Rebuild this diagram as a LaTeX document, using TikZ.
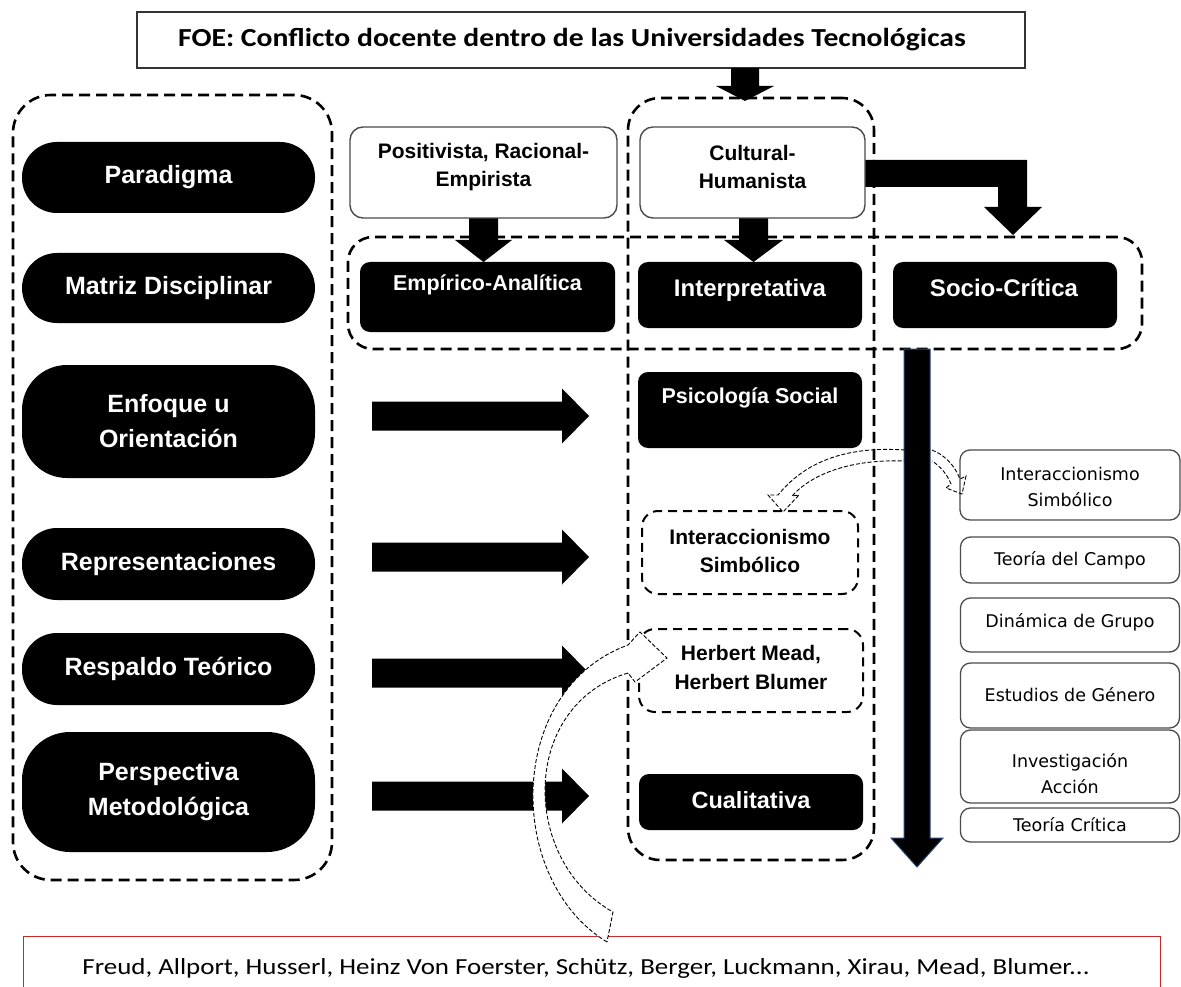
\documentclass[tikz,border=0pt]{standalone}
\usepackage{fontspec}
\setmainfont{Liberation Sans}
\newfontfamily\calfont{Carlito}
\newfontfamily\tahfont{DejaVu Sans}
\usetikzlibrary{calc}
\definecolor{bord}{RGB}{75,75,75}
\definecolor{redb}{RGB}{200,40,40}
\definecolor{blueedge}{RGB}{40,70,115}
\begin{document}
\begin{tikzpicture}[x=1pt,y=-1pt,
  pill/.style={fill=black,text=white,font=\bfseries\fontsize{25}{35}\selectfont,align=center,inner sep=0pt,minimum width=293pt,rounded corners=35pt},
  cont/.style={draw=black,line width=2.6pt,dash pattern=on 11pt off 6pt,rounded corners=38pt,inner sep=0pt},
  wbox/.style={draw=bord,line width=1.4pt,fill=white,rounded corners=13pt,inner sep=0pt},
  bbox/.style={fill=black,rounded corners=10pt,inner sep=0pt},
  dbox/.style={draw=black,line width=2pt,dash pattern=on 9pt off 6pt,rounded corners=16pt,inner sep=0pt},
  rbox/.style={draw=bord,line width=1.3pt,fill=white,rounded corners=10pt,inner sep=0pt,minimum width=219pt},
  btxt/.style={font=\bfseries\fontsize{21}{28.5}\selectfont,align=center,inner sep=0pt},
  wtxt/.style={text=white,font=\bfseries\fontsize{21.5}{28}\selectfont,align=center,inner sep=0pt},
  rtxt/.style={font=\tahfont\fontsize{17.5}{26}\selectfont,align=center,inner sep=0pt},
  hollow/.style={draw=black,line width=0.9pt,dash pattern=on 4pt off 2pt,fill=white},
  hollowthin/.style={draw=black,line width=0.9pt,dash pattern=on 4pt off 2pt},
  blk/.style={fill=black}
]
\useasboundingbox (0,0) rectangle (1181,987);
\clip (0,0) rectangle (1181,987);

% containers
\node[cont,minimum width=319pt,minimum height=785pt] (leftc) at (172.5,487.5) {};
\node[cont,minimum width=246pt,minimum height=762pt,rounded corners=32pt] (midc) at (751,479) {};
\node[cont,minimum width=794pt,minimum height=112pt,rounded corners=25pt] (matc) at (745,293) {};

% title
\node[draw=black!80,line width=1.4pt,minimum width=888pt,minimum height=56pt,inner sep=0pt] (title) at (581,40) {};
\node[font=\calfont\bfseries\fontsize{26}{30}\selectfont,inner sep=0pt] (titletxt) at (572,40) {\scalebox{1.14}[1]{FOE: Conflicto docente dentro de las Universidades Tecnológicas}};

% left pills
\node[pill,minimum height=71pt] (par) at (168.5,177.5) {Paradigma};
\node[pill,minimum height=70pt] (mat) at (168.5,288) {Matriz Disciplinar};
\node[pill,minimum height=113pt,rounded corners=45pt] (enf) at (168.5,421.5) {Enfoque u\\Orientación};
\node[pill,minimum height=72pt] (rep) at (168.5,564) {Representaciones};
\node[pill,minimum height=72pt] (res) at (168.5,669) {Respaldo Teórico};
\node[pill,minimum height=120pt,rounded corners=48pt] (per) at (168.5,792) {Perspectiva\\Metodológica};

% block arrows
\fill[blk] (731,68) -- (759,68) -- (759,86) -- (774,86) -- (745,101) -- (716,86) -- (731,86) -- cycle;
\fill[blk] (469,218) -- (498,218) -- (498,240) -- (512,240) -- (483.5,262) -- (455,240) -- (469,240) -- cycle;
\fill[blk] (739,218) -- (768,218) -- (768,240) -- (783,240) -- (753.5,262) -- (724,240) -- (739,240) -- cycle;
\fill[blk] (865,160) -- (1027,160) -- (1027,207) -- (1042,207) -- (1013,235) -- (984,207) -- (998,207) -- (998,187) -- (865,187) -- cycle;
\filldraw[fill=black,draw=blueedge,line width=1pt] (904,349) -- (930,349) -- (930,838) -- (943,838) -- (917,867) -- (891,838) -- (904,838) -- cycle;
\foreach \c in {416,557,673,796}{
  \fill[blk] (372,{\c-14.5}) -- (562,{\c-14.5}) -- (562,{\c-27.5}) -- (589,\c) -- (562,{\c+27.5}) -- (562,{\c+14.5}) -- (372,{\c+14.5}) -- cycle;
}

% top white boxes
\node[wbox,minimum width=267pt,minimum height=91pt] (pos) at (483.5,172.5) {};
\node[btxt] at (483.5,167) {Positivista, Racional-\\Empirista};
\node[wbox,minimum width=225pt,minimum height=91pt] (cul) at (752.5,172.5) {};
\node[btxt] at (752.5,167) {Cultural-\\Humanista};

% matrix row
\node[bbox,minimum width=255pt,minimum height=70pt] (emp) at (487.5,297) {};
\node[wtxt] at (487.5,285) {Empírico-Analítica};
\node[bbox,minimum width=224pt,minimum height=66pt] (int) at (750,295) {};
\node[wtxt,font=\bfseries\fontsize{24}{28}\selectfont] at (750,290) {Interpretativa};
\node[bbox,minimum width=224pt,minimum height=66pt] (soc) at (1005,295) {};
\node[wtxt,font=\bfseries\fontsize{24}{28}\selectfont] at (1004,288) {Socio-Crítica};

% middle column
\node[bbox,minimum width=224pt,minimum height=76pt] (psi) at (750,410) {};
\node[wtxt] at (750,398) {Psicología Social};
\node[dbox,minimum width=216pt,minimum height=83pt] (isb) at (750,552.5) {};
\node[btxt] at (750,551) {Interaccionismo\\Simbólico};
\node[dbox,minimum width=224pt,minimum height=83pt] (her) at (751,670.5) {};
\node[btxt] at (751,667.5) {Herbert Mead,\\Herbert Blumer};
\node[bbox,minimum width=224pt,minimum height=56pt] (cua) at (751,802) {};
\node[wtxt,font=\bfseries\fontsize{23.5}{28}\selectfont] at (751,800) {Cualitativa};

% right column
\node[rbox,minimum width=220pt,minimum height=70pt] (r1) at (1070,485) {};
\node[rtxt] at (1070,486.5) {Interaccionismo\\Simbólico};
\node[rbox,minimum height=46pt] (r2) at (1070,560) {};
\node[rtxt] at (1070,560) {Teoría del Campo};
\node[rbox,minimum height=54pt] (r3) at (1070,625) {};
\node[rtxt] at (1070,622) {Dinámica de Grupo};
\node[rbox,minimum height=65pt] (r4) at (1070,695.5) {};
\node[rtxt] at (1070,695) {Estudios de Género};
\node[rbox,minimum height=73pt] (r5) at (1070,766.5) {};
\node[rtxt] at (1070,773.5) {Investigación\\Acción};
\node[rbox,minimum height=34pt] (r6) at (1070,825) {};
\node[rtxt] at (1070,825) {Teoría Crítica};

% bottom red box
\node[draw=redb,line width=1.3pt,fill=white,minimum width=1137pt,minimum height=80pt,inner sep=0pt,anchor=north west] (authors) at (23,936) {};
\node[font=\calfont\fontsize{23}{27}\selectfont,inner sep=0pt] at (586,968) {\scalebox{1.17}[1]{Freud, Allport, Husserl, Heinz Von Foerster, Schütz, Berger, Luckmann, Xirau, Mead, Blumer...}};

% hollow curved arrows
\filldraw[hollow] (607,942) .. controls (505,880) and (505,690) .. (628,645) -- (640,632) -- (667,658) -- (635,682) -- (628,673) .. controls (520,705) and (520,860) .. (613,912) -- cycle;
\draw[hollowthin] (905,450) .. controls (845,446) and (805,462) .. (778,495) -- (768,495) -- (783,512) -- (799,495) -- (792,496) .. controls (812,474) and (850,459) .. (905,461);
\draw[hollowthin] (932,450) .. controls (945,455) and (955,466) .. (960,479) -- (966,476) -- (962,494) -- (946,488) -- (951,484) .. controls (947,474) and (940,466) .. (932,461);
\end{tikzpicture}
\end{document}
